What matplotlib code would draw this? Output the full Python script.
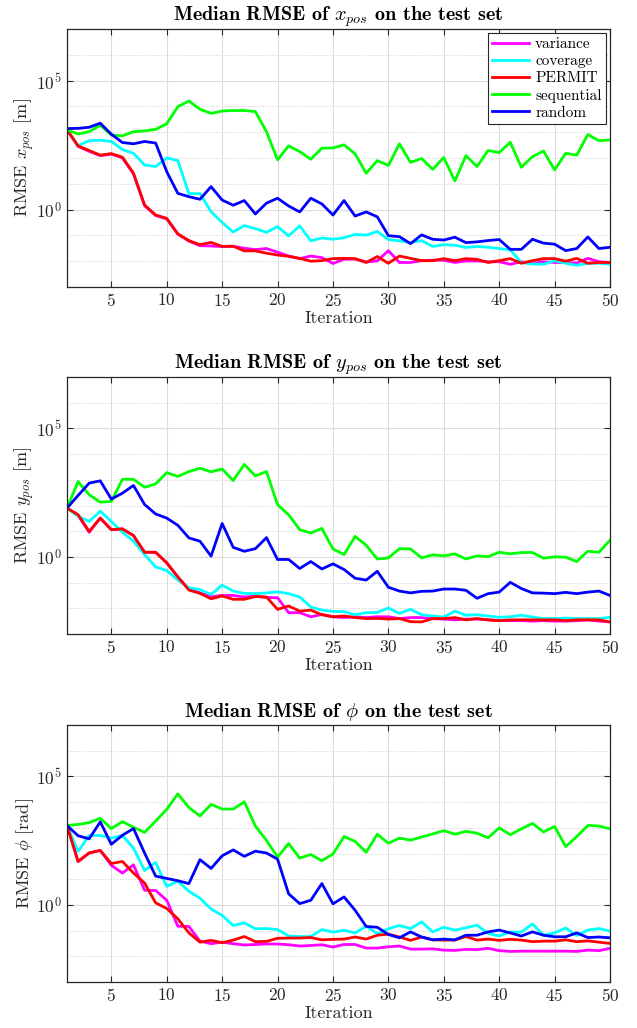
import numpy as np
import matplotlib
matplotlib.use("Agg")
import matplotlib.pyplot as plt
from matplotlib import ticker

plt.rcParams['font.family'] = ['cmr10', 'DejaVu Serif']
plt.rcParams['mathtext.fontset'] = 'cm'
plt.rcParams['axes.formatter.use_mathtext'] = True
plt.rcParams['axes.unicode_minus'] = False

iterations = list(range(1, 51))
methods = ["variance", "coverage", "PERMIT", "sequential", "random"]
colors = {"variance": "#ff00ff", "coverage": "#00ffff", "PERMIT": "#ff0000",
          "sequential": "#00ff00", "random": "#0000ff"}

# ---- values given as log10(RMSE) ----
# x_pos [m]
x_variance = [3.09, 2.45, 2.26, 2.09, 2.15, 2.01, 1.38, 0.15, -0.23, -0.36,
              -0.95, -1.22, -1.40, -1.41, -1.43, -1.42, -1.50, -1.55, -1.51, -1.65,
              -1.80, -1.90, -1.80, -1.86, -2.09, -1.92, -1.92, -2.03, -1.99, -1.59,
              -2.05, -2.05, -1.98, -1.96, -1.96, -2.05, -1.99, -1.99, -2.02, -2.02,
              -2.12, -2.02, -2.09, -2.02, -2.05, -2.05, -2.07, -1.89, -2.02, -2.05]
x_coverage = [3.09, 2.48, 2.67, 2.69, 2.64, 2.33, 2.18, 1.73, 1.67, 2.00,
              1.90, 0.62, 0.62, -0.08, -0.50, -0.87, -0.62, -0.74, -0.88, -0.66,
              -1.02, -0.63, -1.21, -1.10, -1.15, -1.09, -0.96, -0.99, -0.85, -1.16,
              -1.21, -1.28, -1.20, -1.43, -1.36, -1.38, -1.47, -1.43, -1.46, -1.51,
              -1.56, -2.05, -2.11, -2.12, -1.98, -2.08, -2.16, -2.08, -2.08, -2.12]
x_permit = [3.09, 2.47, 2.29, 2.11, 2.17, 2.03, 1.41, 0.18, -0.21, -0.34,
            -0.94, -1.20, -1.36, -1.27, -1.43, -1.42, -1.60, -1.60, -1.69, -1.76,
            -1.81, -1.89, -2.00, -1.98, -1.90, -1.89, -1.90, -2.05, -1.82, -2.08,
            -1.80, -1.89, -1.98, -1.98, -1.90, -1.98, -1.90, -1.93, -2.05, -1.98,
            -1.90, -2.08, -1.98, -1.90, -1.90, -2.00, -1.89, -2.08, -2.05, -2.05]
x_sequential = [3.09, 2.93, 3.02, 3.27, 2.89, 2.86, 3.02, 3.05, 3.11, 3.33,
                3.99, 4.21, 3.89, 3.73, 3.82, 3.84, 3.84, 3.80, 3.02, 1.93,
                2.47, 2.25, 1.95, 2.38, 2.39, 2.51, 2.16, 1.41, 1.90, 1.71,
                2.55, 1.83, 1.98, 1.56, 2.02, 1.11, 2.09, 1.67, 2.29, 2.21,
                2.61, 1.64, 2.05, 2.27, 1.54, 2.18, 2.11, 2.91, 2.67, 2.70]
x_random = [3.14, 3.15, 3.19, 3.35, 2.92, 2.60, 2.55, 2.64, 2.58, 1.47,
            0.63, 0.50, 0.40, 0.89, 0.37, 0.17, 0.35, -0.17, 0.25, 0.44,
            0.14, -0.09, 0.44, 0.22, -0.21, 0.35, -0.25, -0.09, -0.28, -1.01,
            -1.05, -1.32, -0.98, -1.15, -1.18, -1.07, -1.28, -1.25, -1.20, -1.16,
            -1.54, -1.54, -1.15, -1.30, -1.34, -1.59, -1.51, -1.06, -1.51, -1.46]

# y_pos [m]
y_variance = [1.90, 1.62, 0.96, 1.51, 1.06, 1.09, 0.83, 0.18, 0.18, -0.23,
              -0.78, -1.25, -1.40, -1.55, -1.50, -1.50, -1.56, -1.53, -1.58, -1.59,
              -2.17, -2.17, -2.33, -2.24, -2.33, -2.36, -2.33, -2.36, -2.33, -2.33,
              -2.40, -2.36, -2.36, -2.40, -2.42, -2.45, -2.42, -2.42, -2.45, -2.48,
              -2.48, -2.48, -2.50, -2.48, -2.50, -2.50, -2.48, -2.45, -2.50, -2.53]
y_coverage = [1.90, 1.58, 1.38, 1.78, 1.38, 0.96, 0.61, 0.09, -0.39, -0.53,
              -0.90, -1.20, -1.27, -1.46, -1.10, -1.33, -1.42, -1.43, -1.40, -1.36,
              -1.43, -1.56, -1.95, -2.07, -2.12, -2.13, -2.25, -2.17, -2.16, -1.99,
              -2.20, -2.04, -2.25, -2.30, -2.34, -2.11, -2.27, -2.25, -2.30, -2.35,
              -2.33, -2.27, -2.34, -2.40, -2.40, -2.38, -2.40, -2.40, -2.40, -2.35]
y_permit = [1.90, 1.64, 0.99, 1.51, 1.06, 1.09, 0.83, 0.18, 0.18, -0.23,
            -0.78, -1.29, -1.42, -1.63, -1.52, -1.65, -1.65, -1.54, -1.56, -2.04,
            -1.91, -2.11, -2.07, -2.25, -2.33, -2.30, -2.36, -2.40, -2.39, -2.42,
            -2.40, -2.52, -2.53, -2.40, -2.40, -2.36, -2.45, -2.40, -2.45, -2.48,
            -2.45, -2.45, -2.45, -2.45, -2.45, -2.48, -2.45, -2.45, -2.45, -2.53]
y_sequential = [1.90, 2.93, 2.42, 2.13, 2.16, 3.02, 3.02, 2.71, 2.84, 3.28,
                3.13, 3.32, 3.45, 3.31, 3.42, 2.97, 3.60, 3.15, 3.32, 2.03,
                1.64, 1.06, 0.93, 1.11, 0.31, 0.09, 0.80, 0.45, -0.08, -0.04,
                0.32, 0.31, -0.04, 0.08, 0.04, 0.12, -0.08, 0.04, 0.01, 0.18,
                0.12, 0.17, 0.17, -0.05, 0.00, -0.01, -0.18, 0.22, 0.18, 0.65]
y_random = [1.90, 2.39, 2.87, 2.96, 2.25, 2.48, 2.78, 2.04, 1.67, 1.51,
            1.23, 0.74, 0.61, 0.03, 1.30, 0.37, 0.22, 0.32, 0.75, -0.10,
            -0.10, -0.45, -0.18, -0.47, -0.27, -0.49, -0.83, -0.90, -0.56, -1.18,
            -1.33, -1.40, -1.34, -1.33, -1.25, -1.25, -1.30, -1.61, -1.43, -1.37,
            -0.99, -1.23, -1.40, -1.41, -1.43, -1.38, -1.43, -1.37, -1.33, -1.50]

# phi [rad]
p_variance = [3.09, 1.69, 2.02, 2.12, 1.54, 1.24, 1.56, 0.57, 0.56, 0.18,
              -0.83, -0.84, -1.41, -1.51, -1.45, -1.51, -1.56, -1.54, -1.52, -1.52,
              -1.55, -1.60, -1.58, -1.55, -1.64, -1.54, -1.54, -1.68, -1.68, -1.63,
              -1.60, -1.72, -1.72, -1.71, -1.76, -1.77, -1.73, -1.74, -1.69, -1.78,
              -1.81, -1.80, -1.80, -1.80, -1.80, -1.80, -1.81, -1.76, -1.78, -1.69]
p_coverage = [3.09, 2.08, 2.70, 2.70, 2.60, 2.70, 2.21, 1.34, 1.65, 0.72,
              0.92, 0.53, 0.26, -0.16, -0.41, -0.80, -0.70, -0.93, -0.92, -0.96,
              -1.21, -1.23, -1.23, -0.96, -1.06, -0.99, -1.09, -0.83, -1.12, -0.93,
              -0.80, -0.92, -0.66, -1.05, -0.87, -0.98, -0.89, -0.79, -1.11, -1.21,
              -1.05, -1.06, -0.74, -1.18, -1.09, -0.90, -1.19, -0.98, -0.92, -1.02]
p_permit = [3.09, 1.69, 2.02, 2.12, 1.61, 1.69, 1.24, 0.85, 0.08, -0.14,
            -0.54, -1.09, -1.45, -1.38, -1.47, -1.37, -1.23, -1.43, -1.42, -1.30,
            -1.29, -1.29, -1.27, -1.36, -1.34, -1.33, -1.25, -1.33, -1.18, -1.14,
            -1.25, -1.38, -1.25, -1.36, -1.37, -1.37, -1.23, -1.37, -1.33, -1.38,
            -1.34, -1.37, -1.43, -1.41, -1.41, -1.36, -1.43, -1.40, -1.45, -1.50]
p_sequential = [3.09, 3.13, 3.20, 3.37, 2.97, 3.24, 3.02, 2.82, 3.26, 3.72,
                4.32, 3.79, 3.46, 3.91, 3.73, 3.73, 4.01, 3.07, 2.51, 1.86,
                2.39, 1.82, 1.96, 1.72, 1.98, 2.66, 2.47, 2.05, 2.75, 2.40,
                2.60, 2.52, 2.64, 2.76, 2.89, 2.75, 2.86, 2.79, 2.61, 3.00,
                2.73, 2.96, 3.17, 2.84, 3.05, 2.27, 2.66, 3.09, 3.07, 2.96]
p_random = [3.09, 2.69, 2.57, 3.23, 2.36, 2.71, 2.97, 2.02, 1.12, 1.03,
            0.94, 0.83, 1.76, 1.42, 1.91, 2.14, 1.89, 2.09, 2.02, 1.78,
            0.43, 0.05, 0.18, 0.83, 0.04, 0.31, -0.21, -0.84, -0.87, -1.15,
            -1.28, -1.05, -1.25, -1.36, -1.33, -1.36, -1.18, -1.18, -1.05, -0.98,
            -1.09, -1.21, -1.05, -1.18, -1.24, -1.24, -1.09, -1.27, -1.25, -1.28]

panels = [
    (r"Median RMSE of $x_{pos}$ on the test set", r"RMSE $x_{pos}$ [m]",
     [x_variance, x_coverage, x_permit, x_sequential, x_random], True),
    (r"Median RMSE of $y_{pos}$ on the test set", r"RMSE $y_{pos}$ [m]",
     [y_variance, y_coverage, y_permit, y_sequential, y_random], False),
    (r"Median RMSE of $\phi$ on the test set", r"RMSE $\phi$ [rad]",
     [p_variance, p_coverage, p_permit, p_sequential, p_random], False),
]

W, H = 637, 1028
fig = plt.figure(figsize=(W / 100, H / 100), dpi=100)
axes_px = [(29, 287), (377, 634), (725, 982)]
left_px, right_px = 67, 610

for (title, ylabel, series, show_legend), (top, bot) in zip(panels, axes_px):
    ax = fig.add_axes([left_px / W, 1 - bot / H, (right_px - left_px) / W, (bot - top) / H])
    for name, logvals in zip(methods, series):
        ax.plot(iterations, 10.0 ** np.array(logvals), color=colors[name], lw=2.0, label=name)
    ax.set_yscale('log')
    ax.set_xlim(1, 50)
    ax.set_ylim(1e-3, 1e7)
    ax.set_xticks([5, 10, 15, 20, 25, 30, 35, 40, 45, 50])
    ax.yaxis.set_major_locator(ticker.FixedLocator([1e0, 1e5]))
    ax.yaxis.set_major_formatter(ticker.LogFormatterMathtext())
    ax.yaxis.set_minor_locator(ticker.FixedLocator([10.0 ** k for k in range(-3, 8) if k not in (0, 5)]))
    ax.yaxis.set_minor_formatter(ticker.NullFormatter())
    ax.grid(True, which='major', color='#dcdcdc', lw=0.8)
    ax.grid(True, which='minor', axis='y', color='#c8c8c8', lw=0.7, ls=(0, (1, 2)))
    ax.set_axisbelow(True)
    ax.tick_params(which='both', direction='in', top=True, right=True,
                   colors='#262626', labelcolor='#262626', labelsize=12.5)
    ax.tick_params(which='major', length=4, width=0.8)
    ax.tick_params(which='minor', length=0)
    for sp in ax.spines.values():
        sp.set_color('#262626')
        sp.set_linewidth(0.9)
    ax.set_title(title, fontsize=14.5, fontfamily='cmb10', pad=6, color='black')
    ax.set_xlabel("Iteration", fontsize=13, color='#262626', labelpad=1)
    ax.set_ylabel(ylabel, fontsize=13, color='#262626', labelpad=0)
    if show_legend:
        leg = ax.legend(loc='upper right', fontsize=11, fancybox=False, framealpha=1,
                        edgecolor='#262626', borderaxespad=0.25, handlelength=2.4,
                        handletextpad=0.4, labelspacing=0.22, borderpad=0.3)
        leg.get_frame().set_linewidth(0.8)

fig.savefig("out.png", dpi=100)
